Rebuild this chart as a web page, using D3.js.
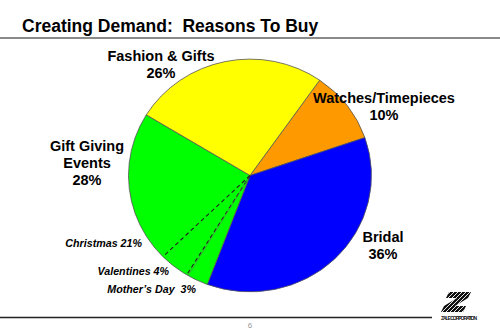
<!DOCTYPE html>
<html>
<head>
<meta charset="utf-8">
<script src="https://cdn.jsdelivr.net/npm/d3@7"></script>
<style>
  body { margin: 0; background: #fff; }
  text { font-family: "Liberation Sans", Arial, sans-serif; }
</style>
</head>
<body>
<div id="chart"></div>
<script>
// main slices, clockwise from the top-right
const categories = ["Watches/Timepieces", "Bridal", "Gift Giving Events", "Fashion & Gifts"];
const shares = [10, 36, 28, 26];
const sliceColors = ["#ff9900", "#0000ff", "#00ff00", "#ffff00"];

// breakdown of the gift giving slice, clockwise
const giftEvents = ["Mother\u2019s Day", "Valentines", "Christmas"];
const giftShares = [3, 4, 21];

const width = 500, height = 333;
const cx = 250, cy = 175.5, r = 121.5, squash = 0.958;
const start = 35 * Math.PI / 180;

const svg = d3.select("#chart").append("svg")
  .attr("width", width)
  .attr("height", height);

/** Title and rule */
svg.append("text")
  .attr("x", 22).attr("y", 31.5)
  .style("font-size", "17.5px")
  .style("font-weight", "bold")
  .attr("fill", "#000")
  .text("Creating Demand:\u00a0 Reasons To Buy");

svg.append("line")
  .attr("x1", 0).attr("x2", width)
  .attr("y1", 38).attr("y2", 38)
  .attr("stroke", "#8a8a8a").attr("stroke-width", 2);

/** Pie */
const pie = d3.pie().sort(null).value(d => d)
  .startAngle(start).endAngle(start + 2 * Math.PI);
const arcs = pie(shares);
const arc = d3.arc().innerRadius(0).outerRadius(r);

const g = svg.append("g")
  .attr("transform", "translate(" + cx + "," + cy + ") scale(1," + squash + ")");

g.selectAll("path.slice")
  .data(arcs)
  .enter()
  .append("path")
  .attr("class", "slice")
  .attr("d", arc)
  .attr("fill", (d, i) => sliceColors[i])
  .attr("stroke", "#555")
  .attr("stroke-width", 0.8)
  .attr("vector-effect", "non-scaling-stroke");

// dashed dividers inside the gift slice
const gift = arcs[categories.indexOf("Gift Giving Events")];
const subArcs = d3.pie().sort(null).value(d => d)
  .startAngle(gift.startAngle).endAngle(gift.endAngle)(giftShares);

const edge = a => [r * Math.sin(a), -r * Math.cos(a)];
subArcs.slice(1).forEach((d, i) => {
  const p = edge(d.startAngle);
  g.append("line")
    .attr("x1", 0).attr("y1", 0)
    .attr("x2", p[0]).attr("y2", p[1])
    .attr("stroke", "#222")
    .attr("stroke-width", 1.1)
    .attr("stroke-dasharray", "4,3")
    .attr("vector-effect", "non-scaling-stroke");
  if (i === 0) {
    const q = edge(d.startAngle - 0.012);
    g.append("line")
      .attr("x1", 0).attr("y1", 0)
      .attr("x2", q[0]).attr("y2", q[1])
      .attr("stroke", "#666")
      .attr("stroke-width", 0.6)
      .attr("vector-effect", "non-scaling-stroke");
  }
});

/** Labels */
const bigLabels = [
  { lines: ["Fashion & Gifts", shares[3] + "%"], x: 161, y: 61 },
  { lines: ["Watches/Timepieces", shares[0] + "%"], x: 384, y: 103 },
  { lines: ["Gift Giving", "Events", shares[2] + "%"], x: 87, y: 150.5 },
  { lines: ["Bridal", shares[1] + "%"], x: 383, y: 241.5 }
];
bigLabels.forEach(l => {
  const t = svg.append("text")
    .attr("text-anchor", "middle")
    .style("font-size", "14.5px")
    .style("font-weight", "bold")
    .attr("fill", "#000");
  l.lines.forEach((s, i) => {
    t.append("tspan").attr("x", l.x).attr("y", l.y + i * 17).text(s);
  });
});

const smallLabels = [
  { text: giftEvents[2] + " " + giftShares[2] + "%", x: 142, y: 246.5 },
  { text: giftEvents[1] + " " + giftShares[1] + "%", x: 169, y: 275 },
  { text: giftEvents[0] + "\u00a0\u00a0" + giftShares[0] + "%", x: 196, y: 292.5 }
];
smallLabels.forEach(l => {
  svg.append("text")
    .attr("x", l.x).attr("y", l.y)
    .attr("text-anchor", "end")
    .style("font-size", "10.7px")
    .style("font-weight", "bold")
    .style("font-style", "italic")
    .attr("fill", "#000")
    .text(l.text);
});

/** Footer */
svg.append("line")
  .attr("x1", 0).attr("x2", 432)
  .attr("y1", 317.5).attr("y2", 317.5)
  .attr("stroke", "#222").attr("stroke-width", 1.5);

svg.append("text")
  .attr("x", 250).attr("y", 328)
  .attr("text-anchor", "middle")
  .style("font-size", "8px")
  .attr("fill", "#999")
  .text("6");

// striped Z logo
const logo = svg.append("g");
const zShape = [[449,292],[471,292],[468,298],[455,306],[466,306],[463,312],[441,312],[444,306],[457,298],[446,298]];
svg.append("clipPath").attr("id", "zclip")
  .append("polygon").attr("points", zShape.map(p => p.join(",")).join(" "));
logo.append("polygon")
  .attr("points", zShape.map(p => p.join(",")).join(" "))
  .attr("fill", "#111");
logo.append("g").attr("clip-path", "url(#zclip)")
  .selectAll("line")
  .data(d3.range(420, 490, 4))
  .enter()
  .append("line")
  .attr("x1", d => d).attr("y1", 314)
  .attr("x2", d => d + 24).attr("y2", 290)
  .attr("stroke", "#fff").attr("stroke-width", 0.9);

svg.append("text")
  .attr("x", 441).attr("y", 320)
  .attr("textLength", 36)
  .style("font-size", "5px")
  .style("font-weight", "bold")
  .attr("fill", "#111")
  .text("ZALE CORPORATION");
</script>
</body>
</html>
